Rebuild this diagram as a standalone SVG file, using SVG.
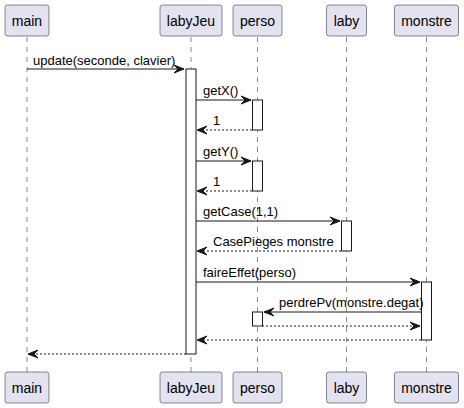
<svg xmlns="http://www.w3.org/2000/svg" width="464" height="408" viewBox="0 0 464 408">
<defs>
<style>
.box{fill:#E2E2F0;stroke:#181818;stroke-width:0.5}
.pt{font-family:"Liberation Sans",Arial,sans-serif;font-size:14px;fill:#000;text-anchor:middle}
.life{stroke:#181818;stroke-width:0.5;stroke-dasharray:5,5;fill:none}
.act{fill:#FFFFFF;stroke:#181818;stroke-width:1}
.msg{stroke:#181818;stroke-width:1;fill:none}
.ret{stroke:#181818;stroke-width:1;stroke-dasharray:2,2;fill:none}
.lbl{font-family:"Liberation Sans",Arial,sans-serif;font-size:13px;fill:#000}
.ah{fill:#181818;stroke:#181818;stroke-width:1}
</style>
</defs>
<rect width="464" height="408" fill="#FFFFFF"/>
<g id="lifelines">
<line class="life" x1="27" y1="37" x2="27" y2="372"/>
<line class="life" x1="191" y1="37" x2="191" y2="372"/>
<line class="life" x1="257.5" y1="37" x2="257.5" y2="372"/>
<line class="life" x1="346.5" y1="37" x2="346.5" y2="372"/>
<line class="life" x1="426.5" y1="37" x2="426.5" y2="372"/>
</g>
<g id="main">
<rect class="box" x="5" y="5" width="44" height="31" rx="2.5"/>
<text class="pt" x="27" y="26">main</text>
<rect class="box" x="5" y="372" width="44" height="31" rx="2.5"/>
<text class="pt" x="27" y="393">main</text>
</g>
<g id="labyJeu">
<rect class="box" x="160" y="5" width="62" height="31" rx="2.5"/>
<text class="pt" x="191" y="26">labyJeu</text>
<rect class="box" x="160" y="372" width="62" height="31" rx="2.5"/>
<text class="pt" x="191" y="393">labyJeu</text>
<rect class="act" x="186" y="69" width="10" height="285"/>
</g>
<g id="perso">
<rect class="box" x="233" y="5" width="49" height="31" rx="2.5"/>
<text class="pt" x="257.5" y="26">perso</text>
<rect class="box" x="233" y="372" width="49" height="31" rx="2.5"/>
<text class="pt" x="257.5" y="393">perso</text>
<rect class="act" x="252.5" y="100" width="10" height="30"/>
<rect class="act" x="252.5" y="161" width="10" height="30"/>
<rect class="act" x="252.5" y="312" width="10" height="14"/>
</g>
<g id="laby">
<rect class="box" x="326.5" y="5" width="40" height="31" rx="2.5"/>
<text class="pt" x="346.5" y="26">laby</text>
<rect class="box" x="326.5" y="372" width="40" height="31" rx="2.5"/>
<text class="pt" x="346.5" y="393">laby</text>
<rect class="act" x="341.5" y="221" width="10" height="30"/>
</g>
<g id="monstre">
<rect class="box" x="394.5" y="5" width="64" height="31" rx="2.5"/>
<text class="pt" x="426.5" y="26">monstre</text>
<rect class="box" x="394.5" y="372" width="64" height="31" rx="2.5"/>
<text class="pt" x="426.5" y="393">monstre</text>
<rect class="act" x="421.5" y="282" width="10" height="58"/>
</g>
<g id="connectors">
<line class="msg" x1="27" y1="69" x2="184" y2="69"/>
<polygon class="ah" points="174,65 184,69 174,73 178,69"/>
<text class="lbl" x="33" y="65">update(seconde, clavier)</text>

<line class="msg" x1="196" y1="100" x2="251" y2="100"/>
<polygon class="ah" points="241,96 251,100 241,104 245,100"/>
<text class="lbl" x="203" y="95">getX()</text>
<line class="ret" x1="252" y1="130" x2="197" y2="130"/>
<polygon class="ah" points="207,126 197,130 207,134 203,130"/>
<text class="lbl" x="213" y="125">1</text>

<line class="msg" x1="196" y1="161" x2="251" y2="161"/>
<polygon class="ah" points="241,157 251,161 241,165 245,161"/>
<text class="lbl" x="203" y="156">getY()</text>
<line class="ret" x1="252" y1="191" x2="197" y2="191"/>
<polygon class="ah" points="207,187 197,191 207,195 203,191"/>
<text class="lbl" x="213" y="186">1</text>

<line class="msg" x1="196" y1="221" x2="340" y2="221"/>
<polygon class="ah" points="330,217 340,221 330,225 334,221"/>
<text class="lbl" x="203" y="216">getCase(1,1)</text>
<line class="ret" x1="341" y1="251" x2="197" y2="251"/>
<polygon class="ah" points="207,247 197,251 207,255 203,251"/>
<text class="lbl" x="213" y="246">CasePieges monstre</text>

<line class="msg" x1="196" y1="282" x2="420" y2="282"/>
<polygon class="ah" points="410,278 420,282 410,286 414,282"/>
<text class="lbl" x="203" y="277">faireEffet(perso)</text>

<line class="msg" x1="421" y1="312" x2="264" y2="312"/>
<polygon class="ah" points="274,308 264,312 274,316 270,312"/>
<text class="lbl" x="279" y="307">perdrePv(monstre.degat)</text>
<line class="ret" x1="262" y1="326" x2="420" y2="326"/>
<polygon class="ah" points="410,322 420,326 410,330 414,326"/>

<line class="ret" x1="421" y1="340" x2="197" y2="340"/>
<polygon class="ah" points="207,336 197,340 207,344 203,340"/>

<line class="ret" x1="186" y1="354" x2="28" y2="354"/>
<polygon class="ah" points="38,350 28,354 38,358 34,354"/>
</g>
</svg>
